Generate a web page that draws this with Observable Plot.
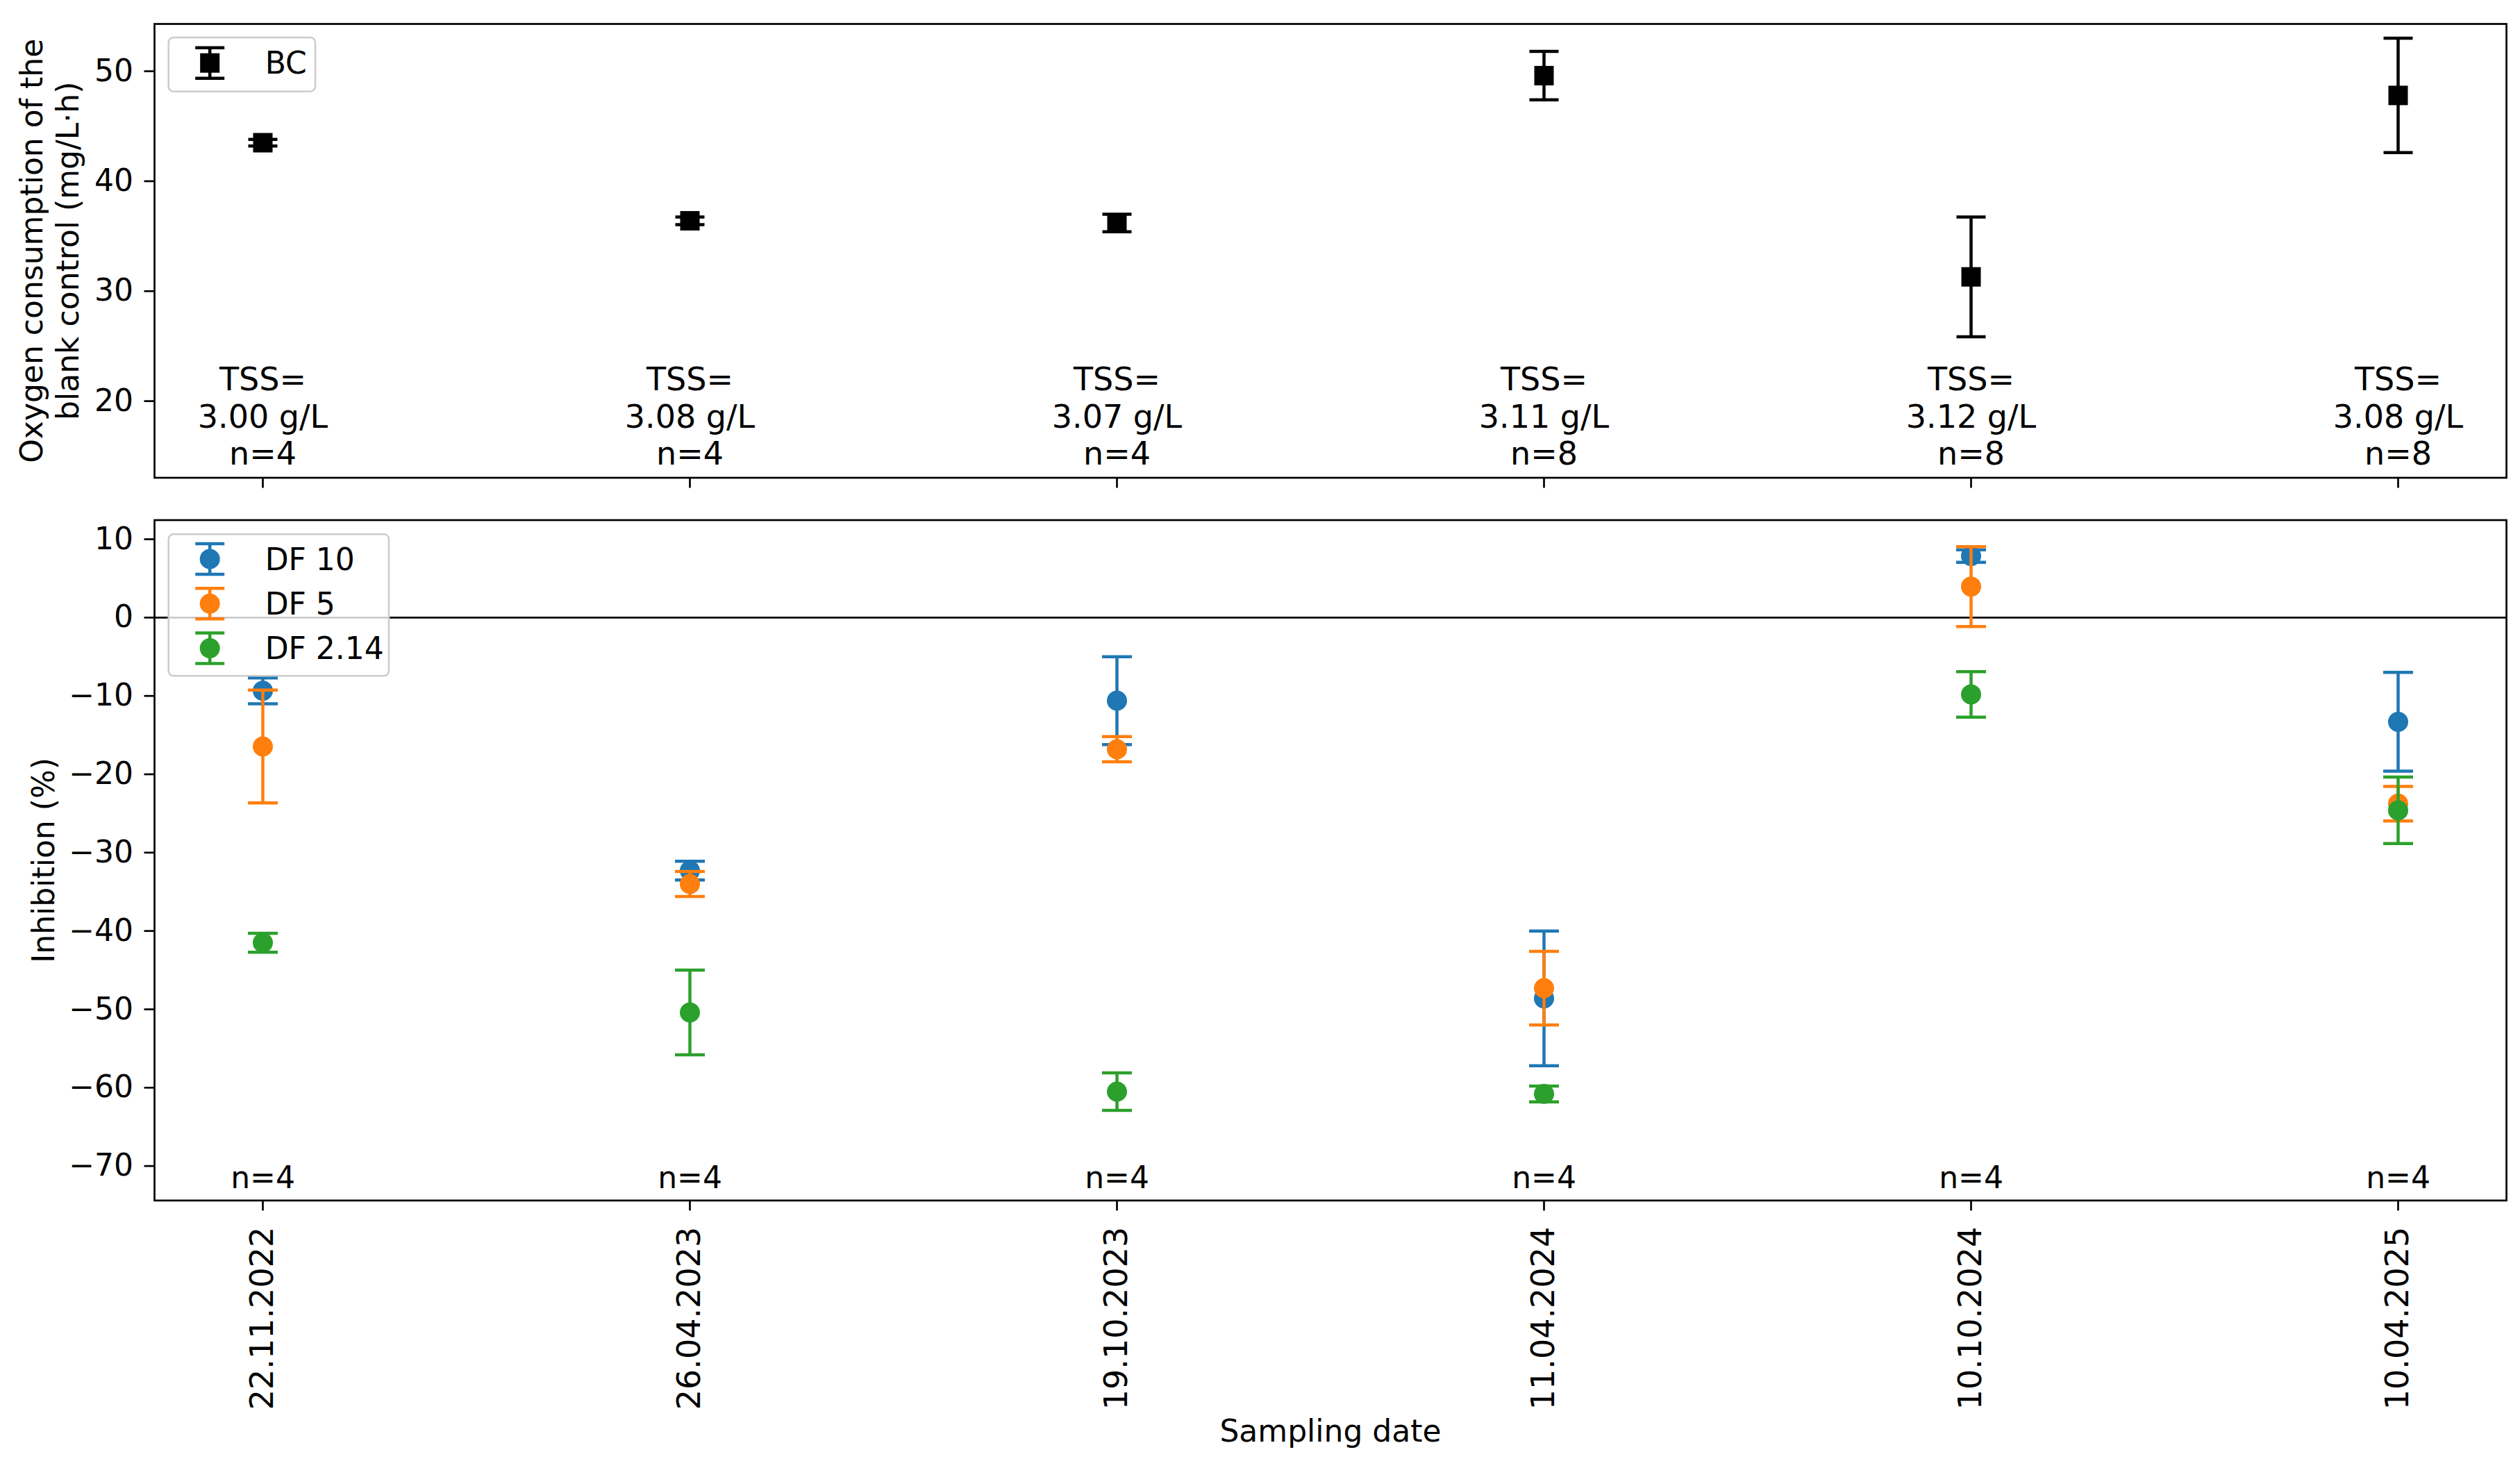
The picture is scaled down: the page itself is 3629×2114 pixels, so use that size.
<!DOCTYPE html>
<html><head><meta charset="utf-8">
<script src="https://cdn.jsdelivr.net/npm/d3@7"></script>
<script src="https://cdn.jsdelivr.net/npm/@observablehq/plot@0.6"></script>
<style>
body{margin:0;background:#fff;}
#wrap{position:relative;width:3629px;height:2114px;font-family:"DejaVu Sans";}
#top,#bottom{position:absolute;left:0;}
#top{top:0px;}
#bottom{top:720px;}
svg{max-width:none !important;}
</style></head><body>
<div id="wrap"><div id="top"></div><div id="bottom"></div></div>
<script>
// ---------- data ----------
const dates = ["22.11.2022","26.04.2023","19.10.2023","11.04.2024","10.10.2024","10.04.2025"];
const bcMean = [43.5, 36.4, 36.2, 49.6, 31.3, 47.8];
const bcErr  = [0.3, 0.35, 0.8, 2.2, 5.45, 5.2];
const tss    = ["3.00","3.08","3.07","3.11","3.12","3.08"];
const nBC    = [4, 4, 4, 8, 8, 8];
const df10Mean  = [-9.35, -32.3, -10.6, -48.6, 7.85, -13.3];
const df10Err   = [1.65, 1.2, 5.6, 8.6, 0.8, 6.3];
const df5Mean   = [-16.45, -34.0, -16.8, -47.3, 3.95, -23.75];
const df5Err    = [7.2, 1.6, 1.6, 4.7, 5.1, 2.2];
const df214Mean = [-41.5, -50.4, -60.5, -60.8, -9.8, -24.6];
const df214Err  = [1.2, 5.4, 2.4, 1.0, 2.9, 4.25];
const nInh      = [4, 4, 4, 4, 4, 4];
const topTicks = [20, 30, 40, 50];
const bottomTicks = [-70, -60, -50, -40, -30, -20, -10, 0, 10];
const seriesNames  = ["DF 10", "DF 5", "DF 2.14"];
const seriesColors = ["#1f77b4", "#ff7f0e", "#2ca02c"];
const seriesMeans  = [df10Mean, df5Mean, df214Mean];
const seriesErrs   = [df10Err, df5Err, df214Err];

// ---------- settings ----------
const W = 3629;
const FONT = "DejaVu Sans";
const LW = 4.5;      // error bar line width
const AXW = 2.7;     // frame/tick line width
const tssTextY = 14.2;
const nTextY = -72.85;

const capSymbol = {draw(ctx, size){ const w = Math.sqrt(size/Math.PI); ctx.moveTo(-w,0); ctx.lineTo(w,0); }};

const bcRows = dates.map((d,i)=>({date:d, mean:bcMean[i], lo:bcMean[i]-bcErr[i], hi:bcMean[i]+bcErr[i],
  label:`TSS=\n${tss[i]} g/L\nn=${nBC[i]}`}));

// ---------- top panel ----------
const topM = {l:222, r:20, t:34, b:32.5};
const topPlot = Plot.plot({
  width: W, height: 720,
  marginLeft: topM.l, marginRight: topM.r, marginTop: topM.t, marginBottom: topM.b,
  style: {fontFamily: FONT, background: "white"},
  x: {type: "point", domain: dates, padding: 0.25},
  y: {domain: [13.03, 54.3]},
  marks: [
    Plot.axisY({ticks: topTicks, tickSize: 14.5, tickPadding: 16, fontSize: 44, tickFormat: d3.format("d"), label: null, strokeWidth: AXW}),
    Plot.axisX({tickSize: 15, tickFormat: () => "", label: null, strokeWidth: AXW}),
    Plot.text(["Oxygen consumption of the\nblank control (mg/L·h)"], {frameAnchor: "left", dx: -110, rotate: -90, lineAnchor: "bottom", textAnchor: "middle", fontSize: 44, lineHeight: 1.16}),
    Plot.ruleX(bcRows, {x: "date", y1: "lo", y2: "hi", stroke: "black", strokeWidth: LW}),
    Plot.dot(bcRows, {x: "date", y: "lo", symbol: capSymbol, r: 21, stroke: "black", strokeWidth: LW, fill: "none"}),
    Plot.dot(bcRows, {x: "date", y: "hi", symbol: capSymbol, r: 21, stroke: "black", strokeWidth: LW, fill: "none"}),
    Plot.dot(bcRows, {x: "date", y: "mean", symbol: "square", r: 15.8, fill: "black", stroke: "none"}),
    Plot.text(bcRows, {x: "date", y: tssTextY, text: "label", lineAnchor: "bottom", fontSize: 46, lineHeight: 1.163}),
    Plot.frame({stroke: "black", strokeWidth: AXW})
  ]
});
document.getElementById("top").appendChild(topPlot);

// ---------- bottom panel ----------
const botM = {l:222, r:20, t:28.5, b:385.7};
const botMarks = [
  Plot.axisY({ticks: bottomTicks, tickSize: 14.5, tickPadding: 16, fontSize: 44, tickFormat: d3.format("d"), label: null, strokeWidth: AXW}),
  Plot.axisX({tickRotate: -90, tickSize: 15, tickPadding: 23, fontSize: 46, label: null, strokeWidth: AXW}),
  Plot.text(["Inhibition (%)"], {frameAnchor: "left", dx: -145, rotate: -90, lineAnchor: "bottom", textAnchor: "middle", fontSize: 44}),
  Plot.text(["Sampling date"], {frameAnchor: "bottom", dy: 347, lineAnchor: "bottom", fontSize: 44}),
  Plot.ruleY([0], {stroke: "black", strokeWidth: AXW})
];
seriesNames.forEach((name, s) => {
  const rows = dates.map((d,i)=>({date:d, mean:seriesMeans[s][i], lo:seriesMeans[s][i]-seriesErrs[s][i], hi:seriesMeans[s][i]+seriesErrs[s][i]}));
  const c = seriesColors[s];
  botMarks.push(
    Plot.ruleX(rows, {x: "date", y1: "lo", y2: "hi", stroke: c, strokeWidth: LW}),
    Plot.dot(rows, {x: "date", y: "lo", symbol: capSymbol, r: 21.5, stroke: c, strokeWidth: LW, fill: "none"}),
    Plot.dot(rows, {x: "date", y: "hi", symbol: capSymbol, r: 21.5, stroke: c, strokeWidth: LW, fill: "none"}),
    Plot.dot(rows, {x: "date", y: "mean", r: 14.5, fill: c, stroke: "none"})
  );
});
botMarks.push(
  Plot.text(dates.map((d,i)=>({date:d, n:nInh[i]})), {x: "date", y: nTextY, text: d => `n=${d.n}`, lineAnchor: "bottom", fontSize: 44}),
  Plot.frame({stroke: "black", strokeWidth: AXW})
);
const botPlot = Plot.plot({
  width: W, height: 1394,
  marginLeft: botM.l, marginRight: botM.r, marginTop: botM.t, marginBottom: botM.b,
  style: {fontFamily: FONT, background: "white"},
  x: {type: "point", domain: dates, padding: 0.25},
  y: {domain: [-74.4, 12.44]},
  marks: botMarks
});
document.getElementById("bottom").appendChild(botPlot);

// ---------- legends ----------
function addLegend(svg, box, entries) {
  const g = d3.select(svg).append("g").attr("font-family", FONT).attr("text-anchor", "start");
  g.append("rect").attr("x", box.x).attr("y", box.y).attr("width", box.w).attr("height", box.h)
    .attr("rx", 7).attr("fill", "white").attr("fill-opacity", 0.8).attr("stroke", "#cccccc").attr("stroke-width", 2.5);
  entries.forEach((e, i) => {
    const cy = box.y + box.first + i * box.step;
    const sx = box.x + 59.5;
    g.append("line").attr("x1", sx).attr("x2", sx).attr("y1", cy - 22).attr("y2", cy + 22).attr("stroke", e.color).attr("stroke-width", LW);
    [-22, 22].forEach(o => g.append("line").attr("x1", sx - 21).attr("x2", sx + 21).attr("y1", cy + o).attr("y2", cy + o).attr("stroke", e.color).attr("stroke-width", LW));
    if (e.square) g.append("rect").attr("x", sx - 14).attr("y", cy - 14).attr("width", 28).attr("height", 28).attr("fill", e.color);
    else g.append("circle").attr("cx", sx).attr("cy", cy).attr("r", 14.5).attr("fill", e.color);
    g.append("text").attr("x", box.x + 139).attr("y", cy + 15.5).attr("font-size", 44).attr("fill", "black")
      .attr("text-anchor", "start").text(e.label);
  });
}
addLegend(topPlot, {x: topM.l + 20.7, y: topM.t + 20, w: 211.3, h: 77.7, first: 36.7, step: 0},
  [{label: "BC", color: "black", square: true}]);
addLegend(botPlot, {x: botM.l + 20.7, y: botM.t + 20.8, w: 317.3, h: 204, first: 35.7, step: 64.2},
  seriesNames.map((n, i) => ({label: n, color: seriesColors[i]})));
</script>
</body></html>
